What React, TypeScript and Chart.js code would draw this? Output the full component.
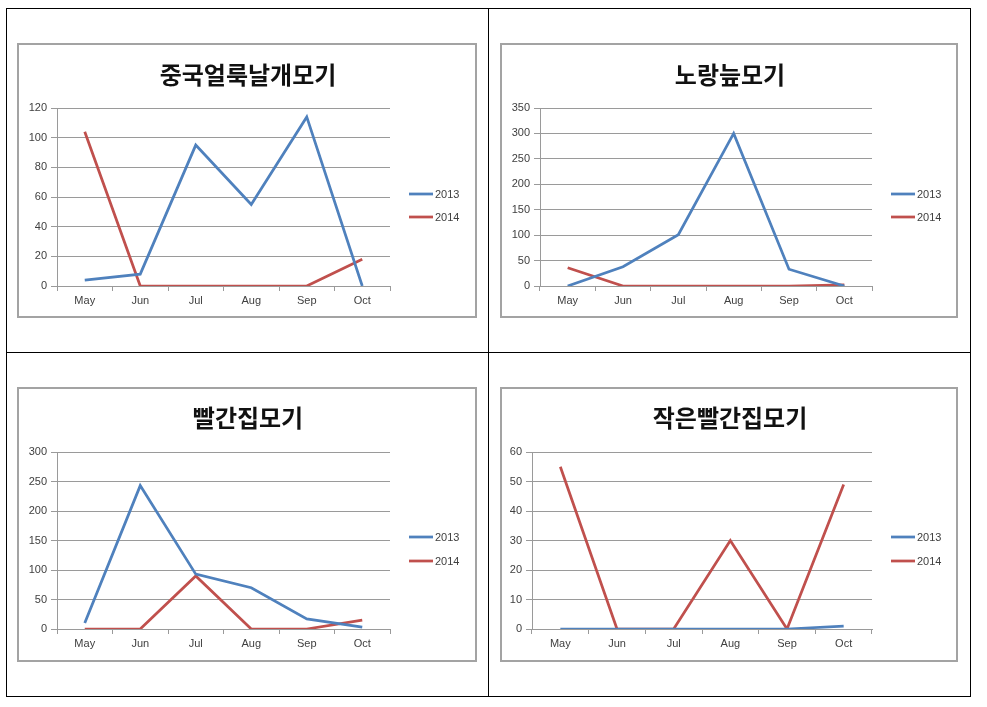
import React, { useEffect, useRef } from "react";
import { Chart, registerables } from "chart.js";

Chart.register(...registerables);

const months = ["May", "Jun", "Jul", "Aug", "Sep", "Oct"];
const seriesNames = ["2013", "2014"];

const title1 = "중국얼룩날개모기";
const data1_2013 = [4, 8, 95, 55, 114, 0];
const data1_2014 = [104, 0, 0, 0, 0, 18];
const max1 = 120;
const step1 = 20;

const title2 = "노랑늪모기";
const data2_2013 = [0, 38, 101, 300, 33, 0];
const data2_2014 = [36, 0, 0, 0, 0, 2];
const max2 = 350;
const step2 = 50;

const title3 = "빨간집모기";
const data3_2013 = [10, 243, 93, 70, 17, 3];
const data3_2014 = [0, 0, 90, 0, 0, 15];
const max3 = 300;
const step3 = 50;

const title4 = "작은빨간집모기";
const data4_2013 = [0, 0, 0, 0, 0, 1];
const data4_2014 = [55, 0, 0, 30, 0, 49];
const max4 = 60;
const step4 = 10;

const BLUE = "#4F81BD";
const RED = "#C0504D";
const GRID = "#9a9a9a";
const LABEL = "#404040";
const FONT = "'Liberation Sans', Arial, sans-serif";
const TITLE_FONT = "'Noto Sans CJK KR', sans-serif";

type PanelProps = {
  title: string;
  a: number[];
  b: number[];
  max: number;
  step: number;
  left: number;
  top: number;
  width: number;
  height: number;
  yWidth: number;
  xHeight: number;
  rightPad: number;
  titleCenter: number;
  plotTop: number;
  legendY: number[];
};

function Panel(p: PanelProps) {
  const ref = useRef<HTMLCanvasElement | null>(null);
  useEffect(() => {
    if (!ref.current) return;
    const overlayPlugin = {
      id: "titleAndLegend",
      afterDraw(chart: any) {
        const ctx = chart.ctx;
        ctx.save();
        // title, centred on the whole chart frame
        ctx.fillStyle = "#111111";
        ctx.font = `bold 24px ${TITLE_FONT}`;
        ctx.textAlign = "center";
        ctx.textBaseline = "middle";
        ctx.fillText(p.title, chart.width / 2 + 1, p.titleCenter);
        // legend
        const x0 = chart.chartArea.right + 19;
        const colors = [BLUE, RED];
        chart.data.datasets.forEach((ds: any, i: number) => {
          const y = p.legendY[i];
          ctx.strokeStyle = colors[i];
          ctx.lineWidth = 2.75;
          ctx.beginPath();
          ctx.moveTo(x0, y);
          ctx.lineTo(x0 + 24, y);
          ctx.stroke();
          ctx.fillStyle = LABEL;
          ctx.font = `11px ${FONT}`;
          ctx.textBaseline = "middle";
          ctx.textAlign = "left";
          ctx.fillText(ds.label, x0 + 26, y + 0.5);
        });
        ctx.restore();
      },
    };
    const chart = new Chart(ref.current, {
      type: "line",
      data: {
        labels: months,
        datasets: [
          {
            label: seriesNames[0],
            data: p.a,
            borderColor: BLUE,
            backgroundColor: BLUE,
            borderWidth: 2.75,
            pointRadius: 0,
            tension: 0,
          },
          {
            label: seriesNames[1],
            data: p.b,
            borderColor: RED,
            backgroundColor: RED,
            borderWidth: 2.75,
            pointRadius: 0,
            tension: 0,
          },
        ],
      },
      options: {
        responsive: false,
        animation: false,
        devicePixelRatio: 1,
        layout: { padding: { left: 0, right: p.rightPad, top: p.plotTop, bottom: 0 } },
        plugins: {
          legend: { display: false },
          tooltip: { enabled: false },
          title: { display: false },
        },
        scales: {
          x: {
            offset: true,
            grid: {
              display: true,
              drawOnChartArea: false,
              drawTicks: true,
              tickLength: 5,
              color: GRID,
              offset: true,
            },
            border: { display: true, color: GRID, width: 1 },
            ticks: { color: LABEL, font: { family: FONT, size: 11 }, padding: 3, maxRotation: 0 },
            afterFit: (s: any) => {
              s.height = p.xHeight;
            },
          },
          y: {
            min: 0,
            max: p.max,
            grid: { color: GRID, tickLength: 6, lineWidth: 1 },
            border: { display: true, color: GRID, width: 1 },
            ticks: { stepSize: p.step, color: LABEL, font: { family: FONT, size: 11 }, padding: 4 },
            afterFit: (s: any) => {
              s.width = p.yWidth;
            },
          },
        },
      },
      plugins: [overlayPlugin],
    });
    return () => chart.destroy();
  }, []);
  return (
    <div
      style={{
        position: "absolute",
        left: p.left,
        top: p.top,
        width: p.width,
        height: p.height,
        border: "2px solid #a3a3a3",
        boxSizing: "border-box",
        background: "#fff",
      }}
    >
      <canvas ref={ref} width={p.width - 4} height={p.height - 4} style={{ display: "block", width: p.width - 4, height: p.height - 4 }} />
    </div>
  );
}

function Line(props: { left: number; top: number; width: number; height: number }) {
  return <div style={{ position: "absolute", background: "#000", ...props }} />;
}

export default function App() {
  return (
    <div style={{ position: "fixed", left: 0, top: 0, width: 987, height: 707, background: "#fff", overflow: "hidden" }}>
      <Line left={6} top={8} width={965} height={1} />
      <Line left={6} top={352} width={965} height={1} />
      <Line left={6} top={696} width={965} height={1} />
      <Line left={6} top={8} width={1} height={689} />
      <Line left={488} top={8} width={1} height={689} />
      <Line left={970} top={8} width={1} height={689} />
      <Panel title={title1} a={data1_2013} b={data1_2014} max={max1} step={step1}
        left={17} top={43} width={460} height={275} yWidth={38} xHeight={30} rightPad={85}
        titleCenter={30} plotTop={63} legendY={[149, 172]} />
      <Panel title={title2} a={data2_2013} b={data2_2014} max={max2} step={step2}
        left={500} top={43} width={458} height={275} yWidth={38} xHeight={30} rightPad={84}
        titleCenter={30} plotTop={63} legendY={[149, 172]} />
      <Panel title={title3} a={data3_2013} b={data3_2014} max={max3} step={step3}
        left={17} top={387} width={460} height={275} yWidth={38} xHeight={31} rightPad={85}
        titleCenter={29} plotTop={63} legendY={[148, 172]} />
      <Panel title={title4} a={data4_2013} b={data4_2014} max={max4} step={step4}
        left={500} top={387} width={458} height={275} yWidth={30} xHeight={31} rightPad={84}
        titleCenter={29} plotTop={63} legendY={[148, 172]} />
    </div>
  );
}
